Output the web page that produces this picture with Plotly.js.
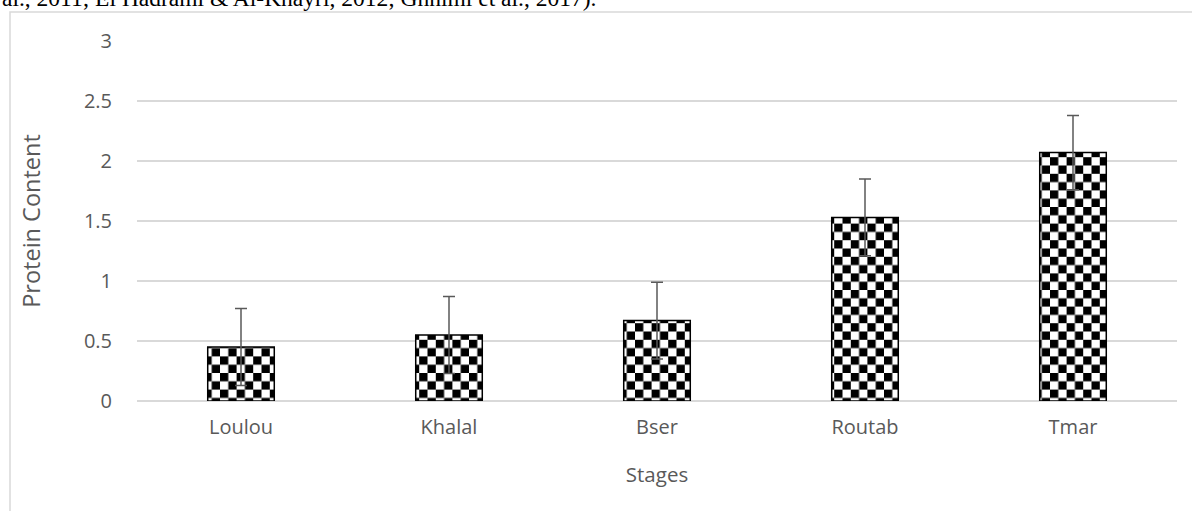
<!DOCTYPE html>
<html>
<head>
<meta charset="utf-8">
<script src="https://cdn.plot.ly/plotly-3.0.1.min.js"></script>
<style>
  html, body { margin: 0; padding: 0; background: #fff; }
  #chart { width: 1192px; height: 511px; }
</style>
</head>
<body>
<div id="chart"></div>
<script>
// ---- data ----
const stages = ["Loulou", "Khalal", "Bser", "Routab", "Tmar"];
const protein = [0.45, 0.55, 0.67, 1.53, 2.07];
const proteinErr = [0.32, 0.32, 0.32, 0.32, 0.31];
const yTicks = [0, 0.5, 1, 1.5, 2, 2.5, 3];
const yTickLabels = ["0", "0.5", "1", "1.5", "2", "2.5", "3"];
const headerText = "al., 2011; El Hadrami &amp; Al-Khayri, 2012; Ghnimi et al., 2017).";

const W = 1192, H = 511;
const mL = 137, mR = 15, mT = 41, mB = 110;
const pw = W - mL - mR, ph = H - mT - mB;
const px = v => (v - mL) / pw;        // page px -> paper x
const py = v => (H - mB - v) / ph;    // page px -> paper y

const trace = {
  type: "bar",
  x: stages,
  y: protein,
  marker: {
    color: "#ffffff",
    line: { color: "#000000", width: 1.5 },
    pattern: { shape: ".", fgcolor: "#000000", bgcolor: "#ffffff", size: 16.6, solidity: 0.5 }
  },
  error_y: {
    type: "data",
    array: proteinErr,
    visible: true,
    color: "#595959",
    thickness: 1.5,
    width: 6
  },
  hoverinfo: "none"
};

const tickFont = { family: "Open Sans, sans-serif", size: 20, color: "#595959" };

const layout = {
  width: W, height: H,
  margin: { l: mL, r: mR, t: mT, b: mB, pad: 0 },
  paper_bgcolor: "#ffffff",
  plot_bgcolor: "#ffffff",
  showlegend: false,
  bargap: 0.68,
  font: tickFont,
  xaxis: {
    type: "category",
    showgrid: false,
    showline: false,
    zeroline: false,
    ticks: "",
    tickfont: tickFont,
    ticklabelstandoff: 12,
    title: { text: "Stages", font: { family: "Open Sans, sans-serif", size: 20.5, color: "#595959" }, standoff: 28 }
  },
  yaxis: {
    range: [0, 3],
    tickvals: yTicks,
    ticktext: yTickLabels,
    showgrid: true,
    gridcolor: "#d9d9d9",
    gridwidth: 1.3,
    zeroline: true,
    zerolinecolor: "#d9d9d9",
    zerolinewidth: 1.3,
    showline: false,
    ticks: "",
    tickfont: tickFont,
    ticklabelstandoff: 24,
    title: { text: "Protein Content", font: { family: "Open Sans, sans-serif", size: 23.5, color: "#595959" }, standoff: 36 }
  },
  shapes: [{
    type: "rect", xref: "paper", yref: "paper", layer: "below",
    x0: px(10), x1: px(1200), y0: py(520), y1: py(12),
    line: { color: "#d9d9d9", width: 1.5 }, fillcolor: "rgba(0,0,0,0)"
  }],
  annotations: [{
    xref: "paper", yref: "paper",
    x: px(0), y: py(13),
    xanchor: "left", yanchor: "bottom",
    text: headerText, showarrow: false,
    font: { family: "Liberation Serif, Times New Roman, serif", size: 23.5, color: "#000000" }
  }]
};

const gd = document.getElementById("chart");
Plotly.newPlot(gd, [trace], layout, { staticPlot: true, displayModeBar: false }).then(() => {
  // turn the library's bar fill pattern into a checkerboard tile
  const NS = "http://www.w3.org/2000/svg";
  gd.querySelectorAll("pattern").forEach(p => {
    const s = 16.6, h = s / 2;
    p.setAttribute("width", s);
    p.setAttribute("height", s);
    while (p.firstChild) p.removeChild(p.firstChild);
    const bg = document.createElementNS(NS, "rect");
    bg.setAttribute("x", 0); bg.setAttribute("y", 0);
    bg.setAttribute("width", s); bg.setAttribute("height", s);
    bg.setAttribute("fill", "#ffffff");
    p.appendChild(bg);
    [[0, 0], [h, h]].forEach(([x, y]) => {
      const r = document.createElementNS(NS, "rect");
      r.setAttribute("x", x); r.setAttribute("y", y);
      r.setAttribute("width", h); r.setAttribute("height", h);
      r.setAttribute("fill", "#000000");
      p.appendChild(r);
    });
  });
});
</script>
</body>
</html>
